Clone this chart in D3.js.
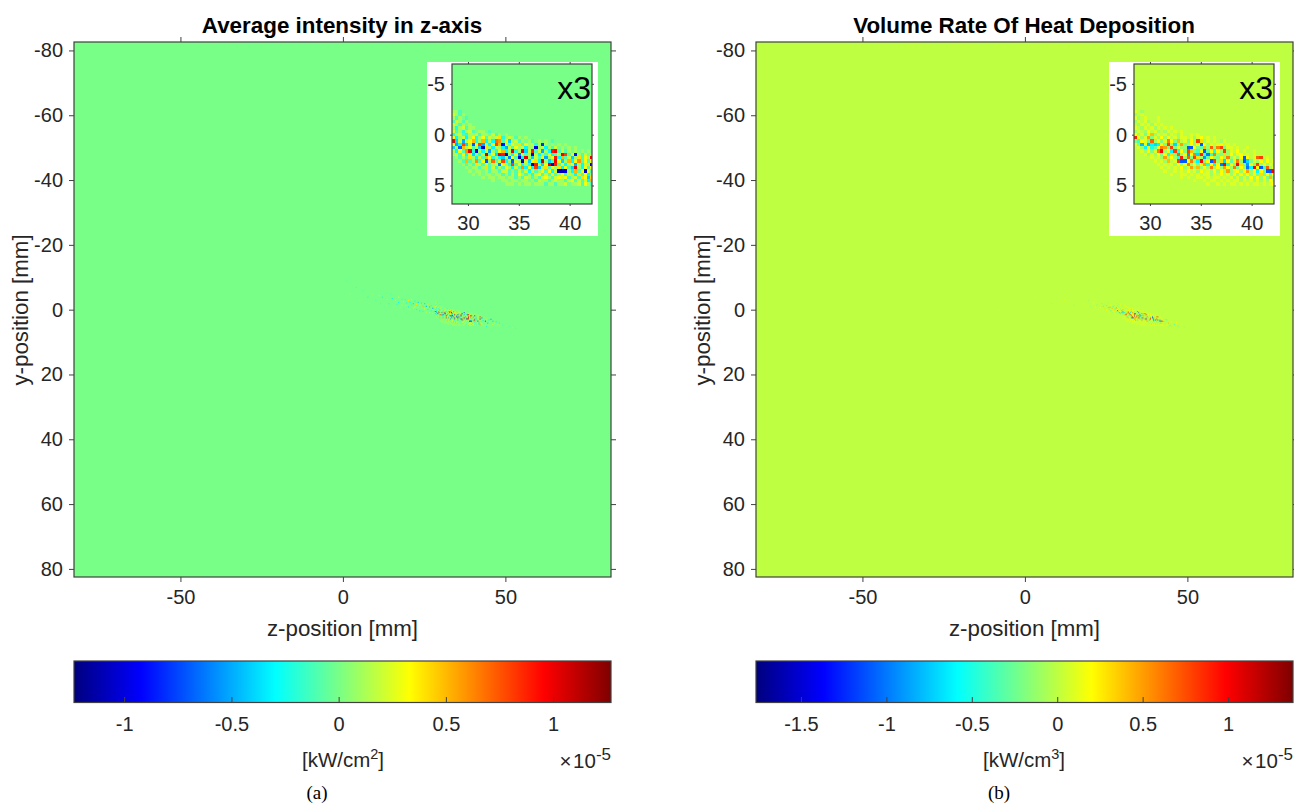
<!DOCTYPE html>
<html>
<head>
<meta charset="utf-8">
<script src="https://cdn.jsdelivr.net/npm/d3@7"></script>
<style>
  html, body { margin: 0; padding: 0; background: #fff; }
  text { font-family: "Liberation Sans", Arial, sans-serif; fill: #262626; }
</style>
</head>
<body>
<div id="chart"></div>
<script>
// Field values below are in units of 1e-6.
const gridZ0 = 28.4, gridY0 = -7, gridStep = 0.325, firstRow = 14;

const rowsA = [
  [1,1,-1],
  [2,1,-1,1],
  [1,-1,1,0,-1],
  [-1,2,1,-1,1],
  [2,1,-1,1,0,1],
  [1,-2,1,2,-1,1,1],
  [2,-1,1,-2,1,2,-1,0,1,1,0,-1],
  [-2,1,2,-1,-2,1,1,2,-1,1,1,0,2,-1,1,0,1],
  [3,-3,1,2,-3,1,3,-2,1,3,-1,2,1,2,4,-2,1,2,1,-1,1,0,1],
  [10,-4,2,-5,1,3,5,-2,1,5,-3,1,-3,7,6,-1,3,-4,1,2,-1,1,0,1,-1,0,1,0,1,0,-1],
  [3,-5,-3,8,-4,2,-7,3,8,-5,2,-3,3,8,5,-9,2,-1,3,1,4,-1,3,1,2,-2,1,-8,1,0,1,0,1,0,1],
  [-4,1,-7,5,1,3,-1,2,-4,-11,4,1,-3,2,1,-3,-5,2,-1,3,1,2,-3,1,1,-10,1,2,-3,1,-1,2,0,1,0,1,0,1],
  [1,-3,3,-1,6,10,-2,-10,1,-3,2,-5,1,-2,3,5,-3,1,10,-2,1,10,-4,2,9,-1,2,-5,1,-3,9,10,-1,2,-1,1,0,1,0,1,0,1],
  [1,2,-1,3,-3,2,-4,1,-2,2,11,-1,3,-4,10,9,-11,1,-3,3,-6,2,-1,1,-10,2,-3,1,-1,3,-3,-1,2,10,8,-1,3,-9,1,-1,2,0,1],
  [0,1,-1,1,-1,4,1,-3,2,-1,5,3,-2,1,-3,-4,1,-6,3,-1,-11,-3,10,1,-4,2,-1,3,-5,1,3,9,-3,5,-1,2,-4,1,4,-1,3,1,10],
  [0,0,1,-1,5,-1,1,6,-1,3,-7,1,7,-1,2,8,-3,1,-7,2,1,-11,2,-4,3,4,-3,11,1,-4,-1,10,3,-4,1,5,-3,3,6,-1,3,-1,3],
  [0,0,0,1,-1,1,-1,4,2,-1,2,-1,1,2,-6,3,1,-2,8,-1,3,-3,1,-2,-11,9,2,-4,3,10,-10,9,-1,3,-3,1,3,-5,1,-3,2,4,-10],
  [0,0,0,0,1,0,1,1,-1,1,4,-1,2,-2,1,-1,3,1,-3,2,-1,6,-3,3,-3,8,-4,1,4,-1,3,1,4,-3,3,-1,-4,10,1,-3,3,-1,3],
  [0,0,0,0,0,1,0,1,1,0,1,-1,1,1,-1,2,2,-1,1,-1,2,-1,2,-3,2,-1,1,3,-1,3,-3,2,-11,-11,-10,1,-3,5,-1,3,-11,3,-1],
  [0,0,0,0,0,0,1,0,1,0,1,1,0,1,1,-1,1,-1,2,-1,3,1,-1,1,-2,2,3,-1,2,-1,3,-1,1,3,-1,2,1,-3,4,-1,3,-3,1],
  [0,0,0,0,0,0,0,0,0,1,0,1,1,0,1,1,0,1,1,-1,1,-1,2,1,-1,1,-1,2,3,1,-1,2,3,2,3,-1,1,2,-1,4,3,-4,4],
  [0,0,0,0,0,0,0,0,0,0,0,0,1,0,0,1,1,0,1,1,0,1,1,0,1,-1,2,1,1,-1,1,2,1,1,-1,2,3,-1,2,-1,2,-3,5],
  [0,0,0,0,0,0,0,0,0,0,0,0,0,0,0,0,1,1,1,0,1,0,1,1,0,1,1,1,-1,1,1,-1,1,1,2,0,1,1,2,-1,3,1,-1]
];

const rowsB = [
  [1,0,-1],
  [-1,0,1],
  [1,-1,0,1,0,0,0,1],
  [-1,1,0,1,-1,0,0,1],
  [0,-1,1,0,1,-1,1,0,1],
  [1,0,-1,1,0,1,-1,1,0,1,0,1],
  [-1,1,0,-1,2,0,1,-1,0,-1,1,0,1,0,1],
  [2,-1,1,-2,1,4,-1,1,0,1,-1,1,0,-1,1,0,0,1,0,1],
  [9,2,-1,1,5,-2,1,-1,2,-1,2,0,1,-1,1,1,0,1,-1,1,2,0,1,0,1],
  [-2,-4,2,1,-3,7,-1,2,-2,1,6,2,-2,4,0,1,-2,2,-1,8,3,-1,1,0,1,0,-1,1],
  [1,-2,-8,1,-8,-6,-7,-6,2,-2,8,-1,-7,-1,5,-2,-1,2,-1,2,-11,2,-1,1,0,1,2,0,1,0,1],
  [0,1,-1,-6,2,-5,-3,2,6,5,-2,8,-2,2,-1,-1,-11,-11,2,-2,-3,4,-1,7,-1,6,8,-2,1,1,0,1,0,0,1],
  [0,0,1,-1,2,-2,1,6,10,-1,2,-6,8,-5,2,-2,8,4,-2,-4,2,-11,-3,2,-5,2,-1,8,-1,1,0,2,0,1,0,0,1],
  [0,0,0,1,-1,1,-1,2,-2,2,-5,3,-2,7,-1,2,-9,2,6,-7,9,-4,-10,-4,6,-1,-2,3,-1,2,-1,1,2,0,1,0,1],
  [0,0,0,0,0,1,0,1,-1,5,-1,2,-1,-5,9,-1,7,-2,8,3,-1,-9,-3,2,-1,-2,2,-1,6,-1,1,-1,2,-11,2,0,1,7,8,0,1],
  [0,0,0,0,0,0,1,0,1,-1,4,0,1,8,-11,-11,2,6,-1,-6,10,-2,2,-11,8,-1,3,-7,2,-3,1,6,-1,-11,-7,-2,1,-1,2,-1,2,0,1],
  [0,0,0,0,0,0,0,1,0,1,0,1,-1,2,-1,2,6,-1,2,-2,2,5,-5,2,-6,2,-10,10,-5,2,-2,10,3,-2,-9,2,-2,8,-1,2,-1,1,0],
  [0,0,0,0,0,0,0,0,1,0,1,0,1,0,2,-1,1,5,-1,4,-1,2,-1,6,-1,2,-1,5,2,-1,6,-2,2,-1,-10,-6,10,2,-11,-4,7,-1,1],
  [0,0,0,0,0,0,0,0,0,1,0,0,1,0,1,0,2,0,1,-1,2,0,1,-1,2,-1,2,-1,5,-1,1,2,-1,2,5,-1,2,-6,2,-2,-11,-11,10],
  [0,0,0,0,0,0,0,0,0,0,0,1,0,0,1,1,0,1,0,1,0,1,1,-1,1,0,2,0,1,-1,2,-1,2,-1,2,-1,2,-2,3,-2,2,-3,2],
  [0,0,0,0,0,0,0,0,0,0,0,0,0,0,1,0,1,0,0,1,1,0,1,0,1,1,0,1,0,1,-1,1,-1,1,-1,2,-1,2,-1,2,-2,4,-1],
  [0,0,0,0,0,0,0,0,0,0,0,0,0,0,0,0,0,0,1,0,0,1,0,1,1,0,1,0,1,0,1,1,-1,1,0,1,-1,1,-1,1,-1,2,1],
  [0,0,0,0,0,0,0,0,0,0,0,0,0,0,0,0,0,0,0,0,0,0,1,0,0,1,0,1,0,1,1,0,1,0,1,0,1,1,0,1,0,1,2]
];

// faint specks outside the inset window, only visible in the full view
const tailZA = [1,2,4,5,6,7.5,8,9,10,11,11.5,12,13,13.5,14,14.5,15,15.5,16,16.5,17,17,17.5,18,18,18.5,18.5,19,19,19.5,20,20,20.5,20.5,21,21,21.5,21.5,22,22,22.5,22.5,23,23,23.5,23.5,24,24,24.5,24.5,25,25,25.5,25.5,26,26,26.5,26.5,27,27,27.5,27.5,28,28,42.6,42.6,43,43,43.3,43.7,43.7,44,44,44.4,44.8,44.8,45,45.4,45.4,46,46,46.5,47,47,47.5,48,48,49,50,51,52,53];
const tailYA = [-9,-5,-7,-3,-6,-4,-2,-5,-3,-4.5,-2,-4,-1.5,-3.3,-2,-5,-3.6,-1,-3,-1.8,-4,-2.4,-0.8,-3.4,-1.6,-2.6,-0.4,-3.2,-1.4,-2.2,-3,-1,-2.4,-0.2,-3.2,-1.6,-2,-0.6,-2.8,-1,-1.8,-0.2,-2.4,-0.8,-1.6,0.2,-2.2,-0.6,-1.2,0.4,-2,-0.4,-1.2,0.6,-1.8,-0.2,-1,0.8,-1.4,0.2,-0.6,1,-1,0.4,2.4,4.2,3.2,4.8,2.2,3.4,4.6,2.8,5,4,3,4.6,3.6,2.8,4.8,3.4,4.4,4,3.6,4.8,4.4,4,5,4.6,4.8,5,5.4,5.6];
const tailVA = [-1,1,-1,1,-1,-2,1,1,-1,2,-1,-3,1,2,-2,-1,-3,1,2,-2,3,-3,1,-2,2,3,-1,-2,2,-3,4,-3,-3,2,3,-2,-4,2,-3,3,4,-2,-4,2,3,-3,-3,4,5,-2,-4,3,-5,2,4,-3,-4,3,5,-2,-5,2,4,-3,-6,3,-3,2,4,-7,2,4,-2,-4,-3,2,3,-5,1,-4,2,2,-3,1,2,-2,1,-1,1,-1,1,-1];
const tailZB = [-8,3,8,12,15,18,19.5,20,21,21.5,22,22.5,23,23.5,23.5,24,24,24.5,24.5,25,25,25.5,25.5,25.8,26,26,26.3,26.3,26.7,26.7,27,27,27.3,27.3,27.6,27.6,28,28,28.2,42.6,42.6,43,43,43.5,43.5,44,44,44.5,45,45,45.8,46.5,47,48,49,50];
const tailYB = [0,-4,-2,-3,-1.5,-2,-3,-1.2,-2.2,-1,-1.6,-0.2,-0.8,-2,-1,-1.2,0.2,-0.4,-1.8,-1.4,0,-0.8,-2.2,-0.2,-0.9,0.6,0.2,-1.6,-0.6,0.8,-1.1,0.4,0.1,-1.4,-0.4,1,-0.7,0.8,0.4,3.5,5,4.2,2.8,3,4.6,4,5.2,4.7,3.6,5,4.4,3.9,4.9,4.4,5.2,4.8];
const tailVB = [1,1,-1,1,-1,1,-1,-1,2,2,-2,1,2,-2,3,-3,1,3,-1,-3,2,4,-1,-2,5,1,-3,2,4,-1,-4,2,3,-2,-5,1,5,-1,-3,-5,1,3,-2,-4,2,4,-1,-3,2,-1,-3,2,-2,1,-1,1];

const mainTicksX = [-50, 0, 50];
const mainTicksY = [-80, -60, -40, -20, 0, 20, 40, 60, 80];
const insetTicksX = [30, 35, 40];
const insetTicksY = [-5, 0, 5];
const barTicksA = [-1, -0.5, 0, 0.5, 1];
const barTicksB = [-1.5, -1, -0.5, 0, 0.5, 1];
const jetStops = [0, 0.125, 0.375, 0.625, 0.875, 1];
const jetColors = ['#00007f', '#0000ff', '#00ffff', '#ffff00', '#ff0000', '#7f0000'];

const width = 1294, height = 804;
const svg = d3.select('#chart').append('svg').attr('width', width).attr('height', height)
  .style('display', 'block');
const defs = svg.append('defs');
const jet = d3.scaleLinear().domain(jetStops).range(jetColors);
const plainNum = d => String(d);

let grad = defs.append('linearGradient').attr('id', 'jetgrad');
jetStops.forEach((s, i) => grad.append('stop').attr('offset', s).attr('stop-color', jetColors[i]));
defs.append('filter').attr('id', 'soft').attr('x', '-5%').attr('y', '-5%').attr('width', '110%').attr('height', '110%')
  .append('feGaussianBlur').attr('stdDeviation', 0.55);

function cellsFrom(rows) {
  let out = [];
  rows.forEach((row, r) => row.forEach((v, c) => {
    if(v !== 0) out.push({z: gridZ0 + c * gridStep, y: gridY0 + (firstRow + r) * gridStep, v: v});
  }));
  return out;
}

function tailFrom(zs, ys, vs) {
  return zs.map((z, i) => ({z: z, y: ys[i], v: vs[i]}));
}

function styleAxis(g, size) {
  g.selectAll('.domain').remove();
  g.selectAll('line').attr('stroke', '#404040').attr('stroke-width', 1);
  g.selectAll('text').style('font-size', size).style('fill', '#262626');
}

function drawCells(g, cells, x, y, colour, crisp) {
  g.selectAll('rect.cell')
    .data(cells)
    .join('rect')
    .attr('class', 'cell')
    .attr('x', d => x(d.z))
    .attr('y', d => y(d.y))
    .attr('width', d => x(d.z + gridStep) - x(d.z))
    .attr('height', d => y(d.y + gridStep) - y(d.y))
    .attr('fill', d => colour(d.v))
    .attr('shape-rendering', crisp ? 'crispEdges' : 'auto');
}

function drawPanel(p) {
  let t = d3.scaleLinear().domain([p.cmin, p.cmax]).range([0, 1]);
  let colour = v => jet(t(v / 10));
  let cells = cellsFrom(p.rows);
  let tail = tailFrom(p.tz, p.ty, p.tv);

  // main image
  let x = d3.scaleLinear().domain([-82.75, 82.5]).range([p.left, p.left + 537]);
  let y = d3.scaleLinear().domain([-82.6, 82.5]).range([42, 577]);
  svg.append('rect').attr('x', p.left).attr('y', 42).attr('width', 537).attr('height', 535)
    .attr('fill', colour(0));
  drawCells(svg.append('g'), cells.concat(tail), x, y, colour, false);
  svg.append('rect').attr('x', p.left).attr('y', 42).attr('width', 537).attr('height', 535)
    .attr('fill', 'none').attr('stroke', '#404040').attr('stroke-width', 1.2);

  svg.append('g').attr('transform', 'translate(0,42)')
    .call(d3.axisTop(x).tickValues(mainTicksX).tickSize(5).tickFormat(''))
    .call(styleAxis, '20px');
  svg.append('g').attr('transform', 'translate(0,577)')
    .call(d3.axisBottom(x).tickValues(mainTicksX).tickSize(5).tickPadding(8).tickFormat(plainNum))
    .call(styleAxis, '20px');
  svg.append('g').attr('transform', 'translate(' + p.left + ',0)')
    .call(d3.axisLeft(y).tickValues(mainTicksY).tickSize(5).tickPadding(6).tickFormat(plainNum))
    .call(styleAxis, '20px');
  svg.append('g').attr('transform', 'translate(' + (p.left + 537) + ',0)')
    .call(d3.axisRight(y).tickValues(mainTicksY).tickSize(5).tickFormat(''))
    .call(styleAxis, '20px');

  svg.append('text').attr('x', p.left + 268).attr('y', 33).attr('text-anchor', 'middle')
    .style('font-size', '22.4px').style('font-weight', 'bold').style('fill', '#000').text(p.title);
  svg.append('text').attr('x', p.left + 268.5).attr('y', 636).attr('text-anchor', 'middle')
    .style('font-size', '22.3px').text('z-position [mm]');
  svg.append('text').attr('transform', 'translate(' + (p.left - 46) + ',310) rotate(-90)')
    .attr('text-anchor', 'middle').style('font-size', '22.3px').text('y-position [mm]');

  // zoomed inset
  let ix = d3.scaleLinear().domain([28.43, 42.2]).range([p.insetLeft, p.insetLeft + 140]);
  let iy = d3.scaleLinear().domain([-6.95, 6.82]).range([64, 204]);
  svg.append('rect').attr('x', p.insetLeft - 25).attr('y', 62).attr('width', 171).attr('height', 174).attr('fill', '#fff');
  defs.append('clipPath').attr('id', 'clip' + p.id)
    .append('rect').attr('x', p.insetLeft).attr('y', 64).attr('width', 140).attr('height', 140);
  svg.append('rect').attr('x', p.insetLeft).attr('y', 64).attr('width', 140).attr('height', 140)
    .attr('fill', colour(0));
  let insetCells = svg.append('g').attr('clip-path', 'url(#clip' + p.id + ')')
    .append('g').attr('filter', 'url(#soft)');
  drawCells(insetCells, cells, ix, iy, colour, true);
  svg.append('rect').attr('x', p.insetLeft).attr('y', 64).attr('width', 140).attr('height', 140)
    .attr('fill', 'none').attr('stroke', '#404040').attr('stroke-width', 1.2);

  svg.append('g').attr('transform', 'translate(0,64)')
    .call(d3.axisTop(ix).tickValues(insetTicksX).tickSize(2).tickFormat(''))
    .call(styleAxis, '20px');
  svg.append('g').attr('transform', 'translate(0,204)')
    .call(d3.axisBottom(ix).tickValues(insetTicksX).tickSize(2).tickPadding(10).tickFormat(plainNum))
    .call(styleAxis, '20px');
  svg.append('g').attr('transform', 'translate(' + p.insetLeft + ',0)')
    .call(d3.axisLeft(iy).tickValues(insetTicksY).tickSize(2).tickPadding(5).tickFormat(plainNum))
    .call(styleAxis, '20px');
  svg.append('g').attr('transform', 'translate(' + (p.insetLeft + 140) + ',0)')
    .call(d3.axisRight(iy).tickValues(insetTicksY).tickSize(2).tickFormat(''))
    .call(styleAxis, '20px');
  svg.append('text').attr('x', p.insetLeft + 139).attr('y', 99).attr('text-anchor', 'end')
    .style('font-size', '32px').style('fill', '#000').text('x3');

  // colour bar
  let cb = d3.scaleLinear().domain([p.cmin, p.cmax]).range([p.left, p.left + 537]);
  svg.append('rect').attr('x', p.left).attr('y', 661).attr('width', 537).attr('height', 41.5)
    .attr('fill', 'url(#jetgrad)').attr('stroke', '#404040').attr('stroke-width', 1.2);
  svg.append('g').attr('transform', 'translate(0,702.5)')
    .call(d3.axisBottom(cb).tickValues(p.barTicks).tickSize(-5.5).tickFormat(plainNum))
    .call(styleAxis, '20px')
    .selectAll('text').attr('y', 14);

  let unit = svg.append('text').attr('x', p.left + p.unitX).attr('y', 767).attr('text-anchor', 'middle')
    .style('font-size', '20.5px').text(p.unit);
  unit.append('tspan').attr('dy', -8).style('font-size', '14.5px').text(p.unitPower);
  unit.append('tspan').attr('dy', 8).text(']');
  let exp = svg.append('text').attr('x', p.left + 537).attr('y', 768).attr('text-anchor', 'end')
    .style('font-size', '20.5px').text('\u00d7\u200a10');
  exp.append('tspan').attr('dy', -8).style('font-size', '17px').text('-5');

  svg.append('text').attr('x', p.capX).attr('y', 799).attr('text-anchor', 'middle')
    .style('font-family', '"Liberation Serif", serif').style('font-size', '19px').style('fill', '#000').text(p.caption);
}

drawPanel({id: 'a', left: 74, insetLeft: 452, title: 'Average intensity in z-axis', rows: rowsA,
  tz: tailZA, ty: tailYA, tv: tailVA, cmin: -1.234, cmax: 1.27, barTicks: barTicksA,
  unit: '[kW/cm', unitPower: '2', unitX: 269, capX: 317, caption: '(a)'});
drawPanel({id: 'b', left: 756, insetLeft: 1134, title: 'Volume Rate Of Heat Deposition', rows: rowsB,
  tz: tailZB, ty: tailYB, tv: tailVB, cmin: -1.763, cmax: 1.38, barTicks: barTicksB,
  unit: '[kW/cm', unitPower: '3', unitX: 268, capX: 999, caption: '(b)'});
</script>
</body>
</html>
